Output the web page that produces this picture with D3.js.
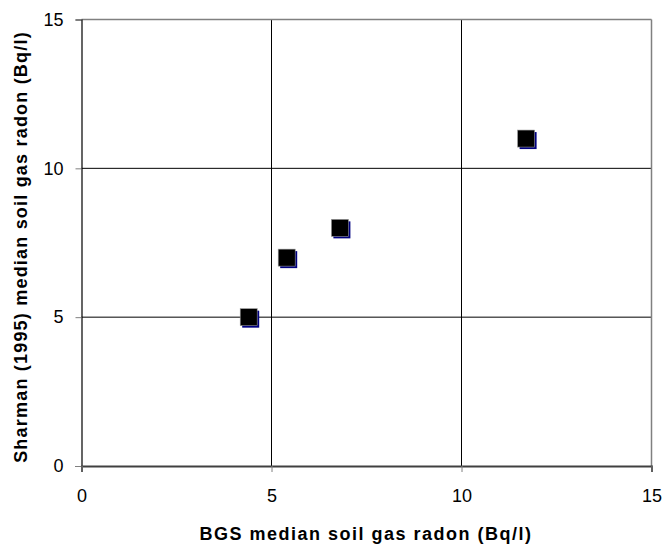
<!DOCTYPE html>
<html><head><meta charset="utf-8">
<script src="https://cdn.jsdelivr.net/npm/d3@7"></script>
<style>body{margin:0;background:#fff}svg{display:block}text{font-family:"Liberation Sans",Arial,sans-serif}</style>
</head><body><svg id="c" width="666" height="545"></svg>
<script>
const bgsValues = [4.4, 5.4, 6.8, 11.7];
const sharmanValues = [5, 7, 8, 11];
const xTicks = [0, 5, 10, 15];
const yTicks = [0, 5, 10, 15];
const xTitle = "BGS median soil gas radon (Bq/l)";
const yTitle = "Sharman (1995) median soil gas radon (Bq/l)";

const svg = d3.select("#c");
const L = 81.5, R = 651.5, T = 19.5, B = 466;
const x = d3.scaleLinear().domain([0, 15]).range([L, R]);
const y = d3.scaleLinear().domain([0, 15]).range([B, T]);

// gridlines
svg.append("g").selectAll("line").data(xTicks.slice(1, -1)).join("line")
  .attr("x1", d => x(d)).attr("x2", d => x(d)).attr("y1", T).attr("y2", B)
  .attr("stroke", "#000").attr("stroke-width", 1);
svg.append("g").selectAll("line").data(yTicks.slice(1, -1)).join("line")
  .attr("y1", d => y(d)).attr("y2", d => y(d)).attr("x1", L).attr("x2", R)
  .attr("stroke", "#000").attr("stroke-width", 1);

// border top/right
svg.append("line").attr("x1", L).attr("x2", R).attr("y1", T).attr("y2", T).attr("stroke", "#808080").attr("stroke-width", 1.5);
svg.append("line").attr("x1", R).attr("x2", R).attr("y1", T).attr("y2", B).attr("stroke", "#808080").attr("stroke-width", 1.5);

// axes
const yAxis = svg.append("g").attr("transform", `translate(${L},0)`)
  .call(d3.axisLeft(y).tickValues(yTicks).tickSize(6).tickPadding(12));
yAxis.select(".domain").attr("stroke", "#000").attr("stroke-width", 1.2);
yAxis.selectAll(".tick line").attr("stroke", "#808080");
yAxis.selectAll("text").attr("font-size", 18).attr("fill", "#000");

const xAxis = svg.append("g").attr("transform", `translate(0,${B})`)
  .call(d3.axisBottom(x).tickValues(xTicks).tickSize(6).tickPadding(17));
xAxis.select(".domain").attr("stroke", "#404040").attr("stroke-width", 2);
xAxis.selectAll(".tick line").attr("stroke", "#808080");
xAxis.selectAll("text").attr("font-size", 18).attr("fill", "#000");

// markers
const data = bgsValues.map((v, i) => ({x: v, y: sharmanValues[i]}));
const s = 17;
const g = svg.append("g");
g.selectAll("rect.sh").data(data).join("rect").attr("class", "sh")
  .attr("x", d => x(d.x) - s/2 + 2).attr("y", d => y(d.y) - s/2 + 2)
  .attr("width", s).attr("height", s).attr("fill", "#000080");
g.selectAll("rect.mk").data(data).join("rect").attr("class", "mk")
  .attr("x", d => x(d.x) - s/2).attr("y", d => y(d.y) - s/2)
  .attr("width", s).attr("height", s).attr("fill", "#000")
  .attr("stroke", "#999").attr("stroke-width", 0.6);

// titles
svg.append("text").attr("x", 366).attr("y", 540).attr("text-anchor", "middle")
  .attr("font-size", 18).attr("font-weight", "bold").attr("letter-spacing", 1.5).text(xTitle);
svg.append("text").attr("transform", `translate(26.5,247) rotate(-90)`)
  .attr("text-anchor", "middle").attr("font-size", 18).attr("font-weight", "bold")
  .attr("letter-spacing", 1.2).text(yTitle);
</script></body></html>
